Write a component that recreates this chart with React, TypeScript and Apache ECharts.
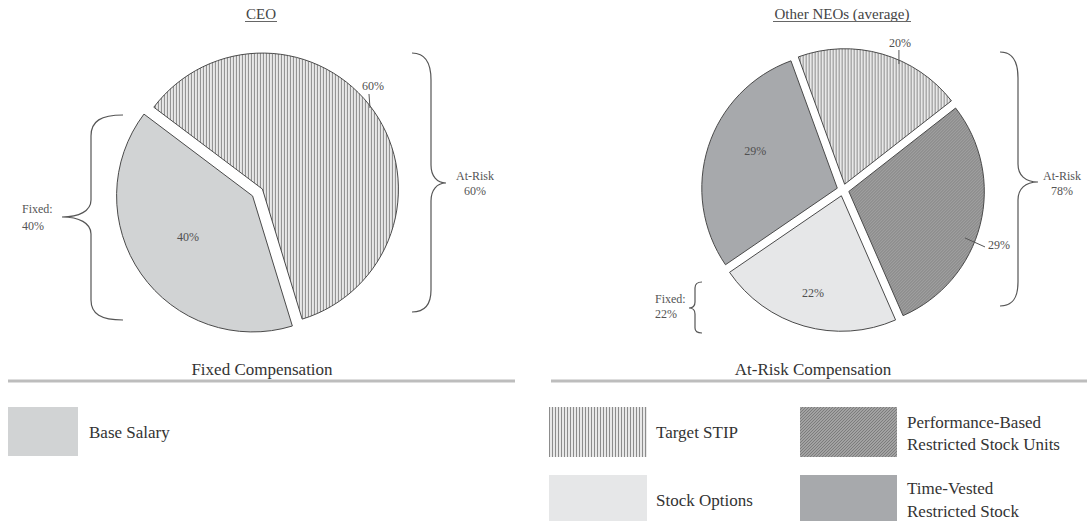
import React, { useEffect, useRef } from 'react';
import * as echarts from 'echarts';

// ---------- data ----------
const pieTitles = ['CEO', 'Other NEOs (average)'];
const ceoCategories = ['Target STIP', 'Base Salary'];
const ceoValues = [60, 40];
const ceoFillKeys = ['stip', 'base'];
const neoCategories = ['Target STIP', 'Performance-Based Restricted Stock Units', 'Base Salary', 'Time-Vested Restricted Stock'];
const neoValues = [20, 29, 22, 29];
const neoFillKeys = ['stip', 'pbrsu', 'options', 'tv'];
const ceoGroupLabels = ['At-Risk\n60%', 'Fixed:\n40%'];
const neoGroupLabels = ['At-Risk\n78%', 'Fixed:\n22%'];
const sectionTitles = ['Fixed Compensation', 'At-Risk Compensation'];
const fixedLegend = ['Base Salary'];
const fixedLegendKeys = ['base'];
const atRiskLegend = ['Target STIP', 'Performance-Based\nRestricted Stock Units', 'Stock Options', 'Time-Vested\nRestricted Stock'];
const atRiskLegendKeys = ['stip', 'pbrsu', 'options', 'tv'];

// ---------- layout ----------
const FONT = "'Liberation Serif', 'Times New Roman', Times, serif";
const CEO_PIE = { center: [257.5, 192.5], radius: 136, startAngle: 143, offset: 6 };
const NEO_PIE = { center: [843, 190], radius: 135.5, startAngle: 110, offset: 6 };
// da: angle shift from slice bisector, r: distance from slice apex,
// line: leader end relative to its start, text: label anchor relative to leader end
const ceoLabelSpecs: any[] = [
  { da: 2, r: 134.7, line: [-1, -14], text: [4, -8], align: 'center' },
  { da: -2.5, r: 76.6 },
];
const neoLabelSpecs: any[] = [
  { da: -8.3, r: 131.9, line: [0, -14], text: [1, -7], align: 'center' },
  { da: -7.6, r: 125.1, line: [20, 9], text: [3, -2], align: 'left' },
  { da: -0.3, r: 101 },
  { da: -6.3, r: 90 },
];

const BRACES: Record<string, string> = {
  braceCeoRight: 'M412,53 C425,53 431,62 431,80 L431,165 C431,176 437,183 446,183 C437,183 431,190 431,201 L431,290 C431,305 425,312 412,312',
  braceCeoLeft: 'M123,115 C101,115 91,121 91,136 L91,200 C91,211 79,217 62,217 C79,217 91,223 91,234 L91,300 C91,314 101,320 123,320',
  braceNeoRight: 'M1000,52 C1012,52 1018,60 1018,78 L1018,164 C1018,175 1025,182 1038,182 C1025,182 1018,189 1018,200 L1018,282 C1018,299 1012,306 1000,306',
  braceNeoLeft: 'M702,282 C697,282 695,284 695,288 L695,302 C695,306 693,308 689,308 C693,308 695,310 695,314 L695,328 C695,331 697,333 702,333',
};
Object.keys(BRACES).forEach((k) => {
  echarts.graphic.registerShape(k, echarts.graphic.extendPath(BRACES[k], {}));
});

function makeTile(w: number, h: number, painter: (x: number, y: number) => string) {
  const c = document.createElement('canvas');
  c.width = w;
  c.height = h;
  const ctx = c.getContext('2d')!;
  for (let y = 0; y < h; y++) {
    for (let x = 0; x < w; x++) {
      ctx.fillStyle = painter(x, y);
      ctx.fillRect(x, y, 1, 1);
    }
  }
  return c;
}

function midAngle(values: number[], startAngle: number, i: number) {
  const total = values.reduce((a, b) => a + b, 0);
  let cum = 0;
  for (let k = 0; k < i; k++) cum += values[k];
  return startAngle - ((cum + values[i] / 2) / total) * 360;
}

// Value labels (and leader lines) placed from the data-derived slice angles
function sliceLabels(cfg: any, values: number[], specs: any[]) {
  const out: any[] = [];
  values.forEach((v, i) => {
    const s = specs[i];
    const mid = midAngle(values, cfg.startAngle, i);
    const rad = (mid * Math.PI) / 180;
    const cx = cfg.center[0] + cfg.offset * Math.cos(rad);
    const cy = cfg.center[1] - cfg.offset * Math.sin(rad);
    const a = ((mid + s.da) * Math.PI) / 180;
    const px = cx + s.r * Math.cos(a);
    const py = cy - s.r * Math.sin(a);
    let tx = px;
    let ty = py;
    let align = 'center';
    if (s.line) {
      const ex = px + s.line[0];
      const ey = py + s.line[1];
      out.push({
        type: 'line',
        silent: true,
        z: 10,
        shape: { x1: px, y1: py, x2: ex, y2: ey },
        style: { stroke: '#555', lineWidth: 1 },
      });
      tx = ex + s.text[0];
      ty = ey + s.text[1];
      align = s.align;
    }
    out.push({
      type: 'text',
      silent: true,
      z: 10,
      x: tx,
      y: ty,
      style: {
        text: v + '%',
        fontFamily: FONT,
        fontSize: 12,
        fill: '#505050',
        textAlign: align,
        textVerticalAlign: 'middle',
      },
    });
  });
  return out;
}

export default function App() {
  const ref = useRef<HTMLDivElement>(null);

  useEffect(() => {
    if (!ref.current) return;
    const chart = echarts.init(ref.current, null, { renderer: 'svg' });

    const stripe = makeTile(3, 3, (x) => (x === 0 ? '#8c8c8c' : '#e8e8e8'));
    const hatch = makeTile(3, 3, (x, y) => ((x + y) % 3 === 0 ? '#7c7c7c' : '#a2a2a2'));
    const fills: Record<string, any> = {
      stip: { image: stripe, repeat: 'repeat', imageWidth: 3, imageHeight: 3 },
      pbrsu: { image: hatch, repeat: 'repeat', imageWidth: 3, imageHeight: 3 },
      base: '#d1d3d4',
      options: '#e6e7e8',
      tv: '#a7a9ac',
    };

    const pieSeries = (cfg: any, cats: string[], vals: number[], keys: string[]) => ({
      type: 'pie',
      center: cfg.center,
      radius: cfg.radius,
      startAngle: cfg.startAngle,
      clockwise: true,
      selectedMode: 'multiple',
      selectedOffset: cfg.offset,
      avoidLabelOverlap: false,
      silent: true,
      emphasis: { disabled: true },
      itemStyle: { borderColor: '#4a4a4a', borderWidth: 1 },
      select: { itemStyle: { borderColor: '#4a4a4a', borderWidth: 1 } },
      label: { show: false },
      labelLine: { show: false },
      data: vals.map((v, i) => ({
        name: cats[i],
        value: v,
        selected: true,
        itemStyle: { color: fills[keys[i]] },
      })),
    });

    const txt = (x: number, y: number, text: string, size: number, align: string, color: string, lineHeight?: number) => ({
      type: 'text',
      x,
      y,
      silent: true,
      style: {
        text,
        fontFamily: FONT,
        fontSize: size,
        fill: color,
        textAlign: align,
        textVerticalAlign: 'middle',
        lineHeight: lineHeight || size + 2,
      },
    });
    const line = (x1: number, y1: number, x2: number, y2: number, color: string, w: number) => ({
      type: 'line',
      silent: true,
      shape: { x1, y1, x2, y2 },
      style: { stroke: color, lineWidth: w },
    });
    const rect = (x: number, y: number, w: number, h: number, fill: any) => ({
      type: 'rect',
      silent: true,
      shape: { x, y, width: w, height: h },
      style: { fill },
    });

    const graphic: any[] = [
      // pie titles
      txt(261, 14, pieTitles[0], 15, 'center', '#444'),
      line(245, 21.5, 277, 21.5, '#666', 1),
      txt(842, 14, pieTitles[1], 15, 'center', '#444'),
      line(773, 21.5, 911, 21.5, '#666', 1),
      // slice value labels
      ...sliceLabels(CEO_PIE, ceoValues, ceoLabelSpecs),
      ...sliceLabels(NEO_PIE, neoValues, neoLabelSpecs),
      // braces
      ...Object.keys(BRACES).map((k) => ({ type: k, silent: true, style: { fill: 'none', stroke: '#555', lineWidth: 1.2 } })),
      // group labels
      txt(475, 183.5, ceoGroupLabels[0], 12, 'center', '#555', 15),
      txt(22, 217, ceoGroupLabels[1], 12, 'left', '#555', 17),
      txt(1062, 183.5, neoGroupLabels[0], 12, 'center', '#555', 15),
      txt(655, 306.5, neoGroupLabels[1], 12, 'left', '#555', 15),
      // legend sections
      txt(262, 369, sectionTitles[0], 17, 'center', '#333'),
      line(8, 381, 515, 381, '#bdbdbd', 3),
      txt(813, 369, sectionTitles[1], 17, 'center', '#333'),
      line(551, 381, 1087, 381, '#bdbdbd', 3),
      // fixed legend
      rect(8, 407, 70, 49, fills[fixedLegendKeys[0]]),
      txt(89, 432, fixedLegend[0], 17, 'left', '#333'),
      // at-risk legend
      rect(549, 407, 98, 50, fills[atRiskLegendKeys[0]]),
      txt(656, 432, atRiskLegend[0], 17, 'left', '#333'),
      rect(800, 407, 97, 50, fills[atRiskLegendKeys[1]]),
      txt(907, 433, atRiskLegend[1], 17, 'left', '#333', 22),
      rect(549, 475, 98, 50, fills[atRiskLegendKeys[2]]),
      txt(656, 500, atRiskLegend[2], 17, 'left', '#333'),
      rect(800, 475, 97, 50, fills[atRiskLegendKeys[3]]),
      txt(907, 500, atRiskLegend[3], 17, 'left', '#333', 23),
    ];

    chart.setOption({
      animation: false,
      backgroundColor: '#ffffff',
      series: [
        pieSeries(CEO_PIE, ceoCategories, ceoValues, ceoFillKeys),
        pieSeries(NEO_PIE, neoCategories, neoValues, neoFillKeys),
      ],
      graphic,
    });

    return () => chart.dispose();
  }, []);

  return <div ref={ref} style={{ position: 'fixed', left: 0, top: 0, width: 1087, height: 521 }} />;
}
